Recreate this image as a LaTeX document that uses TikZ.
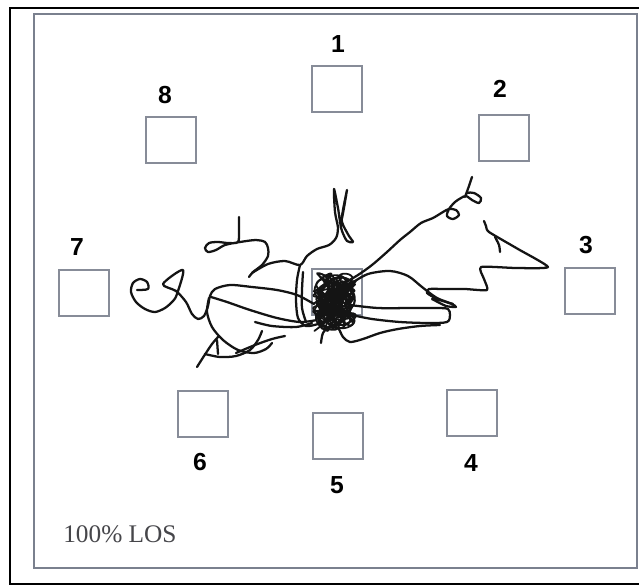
\documentclass[tikz,border=0pt]{standalone}
\usepackage{fontspec}
\setmainfont{Liberation Serif}
\newfontfamily\labelfont{Liberation Sans}
\definecolor{sqgray}{RGB}{135,140,152}
\definecolor{bordergray}{RGB}{122,128,142}
\definecolor{ink}{RGB}{20,20,20}
\definecolor{txtgray}{RGB}{70,70,74}
\tikzset{
  sq/.style={draw=sqgray, line width=1.7pt, minimum width=38pt, minimum height=35pt, inner sep=0pt},
  lbl/.style={font=\labelfont\bfseries\fontsize{18.5}{21}\selectfont, inner sep=0pt},
  pen/.style={draw=ink, line width=1.7pt, line cap=round, line join=round},
}
\begin{document}
\begin{tikzpicture}[x=0.75pt, y=-0.75pt]
\useasboundingbox (0,0) rectangle (639,586);
\fill[white] (0,0) rectangle (639,586);
% frames
\draw[black, line width=2pt] (645,8) -- (10,8) -- (10,584) -- (645,584);
\draw[bordergray, line width=2pt] (34,14) rectangle (637,568);
% squares
\node[sq] (s1) at (337,89) {};
\node[sq] (s2) at (504,138) {};
\node[sq] (s3) at (590,291) {};
\node[sq] (s4) at (472,413) {};
\node[sq] (s5) at (338,436) {};
\node[sq] (s6) at (203,414) {};
\node[sq] (s7) at (84,293) {};
\node[sq] (s8) at (171,140) {};
\node[sq] (s0) at (337,292) {};
% labels
\node[lbl] (l1) at (338,44) {1};
\node[lbl] (l2) at (500,89) {2};
\node[lbl] (l3) at (586,245) {3};
\node[lbl] (l4) at (471,463) {4};
\node[lbl] (l5) at (337,485) {5};
\node[lbl] (l6) at (200,462) {6};
\node[lbl] (l7) at (77,247) {7};
\node[lbl] (l8) at (165,95) {8};
\node[anchor=base west, inner sep=0pt, text=txtgray, font=\fontsize{19}{22}\selectfont] (los) at (63,542) {100\% LOS};
% scribble
\draw[pen] plot[smooth, tension=0.5] coordinates {(137,290) (148,289) (147,282) (140,279) (133,283) (131,292) (136,302) (145,309) (155,312) (165,308) (173,301) (177,294) (183,270) (163,284) (176,291) (186,302) (192,314) (198,319) (204,316) (208,306) (210,296) (215,289) (230,285) (252,287) (277,290) (297,295) (314,304)};
\draw[pen] plot[smooth, tension=0.5] coordinates {(209,298) (207,312) (212,327) (223,340) (238,350) (254,353) (266,349) (272,343)};
\draw[pen] plot[smooth, tension=0.5] coordinates {(211,297) (227,302) (250,310) (277,318) (300,322) (317,320)};
\draw[pen] plot[smooth, tension=0.5] coordinates {(255,322) (272,326) (296,327) (312,323)};
\draw[pen] plot[smooth, tension=0.4] coordinates {(197,367) (204,356) (212,344) (218,337)};
\draw[pen] plot[smooth, tension=0.4] coordinates {(217,340) (218,354)};
\draw[pen] plot[smooth, tension=0.5] coordinates {(205,354) (220,357) (236,356) (250,350) (258,340) (262,331)};
\draw[pen] plot[smooth, tension=0.5] coordinates {(236,353) (255,345) (272,339) (285,336)};
\draw[pen] plot[smooth, tension=0.5] coordinates {(239,217) (239,230) (238,242) (228,243) (218,242) (209,243) (205,248) (208,252) (216,250) (225,245) (240,242) (256,240) (265,242) (268,248) (268,256) (262,265) (253,272) (249,277)};
\draw[pen] plot[smooth, tension=0.5] coordinates {(252,273) (268,264) (285,261) (300,265) (307,256) (317,249) (329,245) (336,238) (338,228) (335,212) (334,189) (338,208) (341,222) (347,190) (343,210) (342,222) (349,236) (353,242) (347,241) (342,231) (340,222)};
\draw[pen] plot[smooth, tension=0.5] coordinates {(300,265) (297,280) (296,300) (298,318) (306,326) (318,324)};
\draw[pen] plot[smooth, tension=0.5] coordinates {(303,272) (302,290) (302,308) (306,322)};
\draw[pen] plot[smooth, tension=0.5] coordinates {(328,295) (343,284) (358,275) (372,265) (387,252) (400,240) (410,232) (421,223) (433,218) (443,212) (449,209) (456,210) (459,215) (453,219) (447,216) (449,209) (455,202) (461,198) (466,196) (472,200) (479,203) (481,198) (474,193) (467,193) (465,197) (469,186) (472,177)};
\draw[pen] plot[smooth, tension=0.35] coordinates {(484,221) (486,226) (489,232) (518,249) (548,267) (516,268) (481,267) (484,279) (487,290) (465,289) (445,289) (429,289) (427,293) (437,299) (452,304) (456,307) (446,306) (432,299)};
\draw[pen] plot[smooth, tension=0.5] coordinates {(495,237) (499,245) (500,252)};
\draw[pen] plot[smooth, tension=0.5] coordinates {(352,283) (368,274) (390,271) (408,276) (422,287) (437,298) (453,304)};
\draw[pen] plot[smooth, tension=0.5] coordinates {(350,305) (378,308) (412,308) (438,308) (448,309) (450,315) (447,322) (428,323) (400,322) (372,319) (352,315)};
\draw[pen] plot[smooth, tension=0.5] coordinates {(321,343) (323,333) (330,326) (338,328) (343,337) (350,342) (363,339) (380,333) (398,329) (420,326) (440,325)};
% central tangle
\draw[pen, line width=1.3pt] plot[domain=0:1430, samples=450, variable=\t] ({335+14*sin(\t)+7*sin(7.3*\t)}, {302+20*sin(1.37*\t+57)+9*cos(5.1*\t)});
\draw[pen, line width=1.3pt] plot[domain=0:1430, samples=450, variable=\t] ({334+13*sin(1.13*\t+40)+8*cos(6.7*\t)}, {301+19*cos(0.91*\t+20)+9*sin(4.3*\t)});
\draw[pen, line width=1.3pt] plot[domain=0:1430, samples=450, variable=\t] ({335+10*cos(1.21*\t+10)+7*sin(5.9*\t)}, {303+14*sin(1.07*\t+80)+8*cos(6.3*\t)});
\end{tikzpicture}
\end{document}
